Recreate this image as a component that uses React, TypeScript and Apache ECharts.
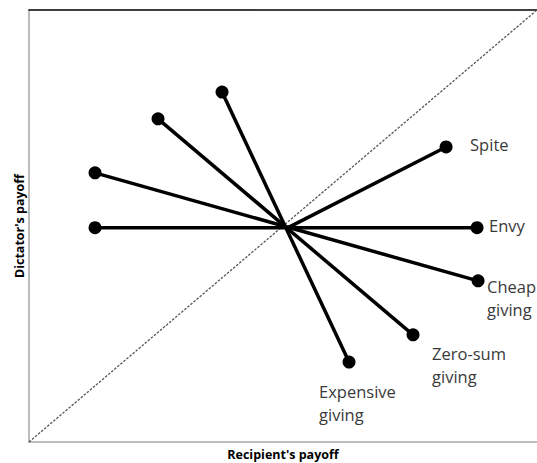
import React, { useEffect, useRef } from "react";
import * as echarts from "echarts";

// Data (axis units 0..100 on both axes)
const strategies = ["Spite", "Envy", "Cheap\ngiving", "Zero-sum\ngiving", "Expensive\ngiving"];
const centerPoint = [50.8, 49.5];
// far (labelled) end of each strategy line
const farX = [82.1, 88.2, 88.4, 75.6, 63.0];
const farY = [68.3, 49.6, 37.3, 24.8, 18.5];
// near end of each line (Spite starts from the centre only)
const nearX = [null, 13.0, 13.0, 25.4, 38.0];
const nearY = [null, 49.6, 62.3, 74.8, 81.0];
const diagonal = [
  [0, 0],
  [100, 100],
];

// label offsets (styling)
const labelPos = [
  [30.5, 4.5],
  [18.5, 4.5],
  [15.5, 1],
  [25.5, 14],
  [-23.5, 24],
];
const labelAlignV = ["middle", "middle", "top", "top", "top"];

export default function App() {
  const ref = useRef<HTMLDivElement>(null);
  useEffect(() => {
    if (!ref.current) return;
    const chart = echarts.init(ref.current, null, { renderer: "svg" });
    const font = "'Open Sans', 'Noto Sans', sans-serif";

    const strategySeries = strategies.map((name, i) => {
      const start =
        nearX[i] === null
          ? { value: centerPoint, symbol: "none" }
          : { value: [nearX[i], nearY[i]] };
      const end = {
        value: [farX[i], farY[i]],
        label: {
          show: true,
          formatter: name,
          position: labelPos[i],
          align: "left",
          verticalAlign: labelAlignV[i],
          fontFamily: font,
          fontSize: 16.5,
          lineHeight: 23,
          color: "#3a3a3a",
        },
      };
      return {
        name,
        type: "line",
        data: [start, end],
        symbol: "circle",
        symbolSize: 13,
        showSymbol: true,
        itemStyle: { color: "#000" },
        lineStyle: { color: "#000", width: 3.5 },
        z: 3,
      };
    });

    const option = {
      animation: false,
      grid: {
        left: 29,
        top: 10,
        right: 0,
        bottom: 21,
        containLabel: false,
        outerBoundsMode: "none",
      },
      xAxis: [
        {
          type: "value",
          min: 0,
          max: 100,
          position: "bottom",
          axisLine: { show: true, onZero: false, lineStyle: { color: "#a6a6a6", width: 1.5 } },
          axisTick: { show: false },
          axisLabel: { show: false },
          splitLine: { show: false },
          name: "Recipient's payoff",
          nameLocation: "middle",
          nameGap: 6,
          nameTextStyle: {
            fontFamily: font,
            fontWeight: "bold",
            fontSize: 12.5,
            color: "#000",
            verticalAlign: "top",
          },
        },
        {
          type: "value",
          min: 0,
          max: 100,
          position: "top",
          axisLine: { show: true, onZero: false, lineStyle: { color: "#000", width: 1.5 } },
          axisTick: { show: false },
          axisLabel: { show: false },
          splitLine: { show: false },
        },
      ],
      yAxis: {
        type: "value",
        min: 0,
        max: 100,
        axisLine: { show: true, onZero: false, lineStyle: { color: "#a6a6a6", width: 1.5 } },
        axisTick: { show: false },
        axisLabel: { show: false },
        splitLine: { show: false },
        name: "Dictator's payoff",
        nameLocation: "middle",
        nameGap: 3,
        nameTextStyle: {
          fontFamily: font,
          fontWeight: "bold",
          fontSize: 12.5,
          color: "#000",
          verticalAlign: "bottom",
        },
      },
      series: [
        {
          type: "line",
          data: diagonal,
          symbol: "none",
          lineStyle: { color: "#555", width: 1.3, type: [2.5, 1.5] },
          z: 2,
          silent: true,
        },
        ...strategySeries,
      ],
    };
    chart.setOption(option as any);
    return () => chart.dispose();
  }, []);
  return (
    <div
      ref={ref}
      style={{ position: "absolute", left: 0, top: 0, width: 537, height: 463, background: "#fff" }}
    />
  );
}
